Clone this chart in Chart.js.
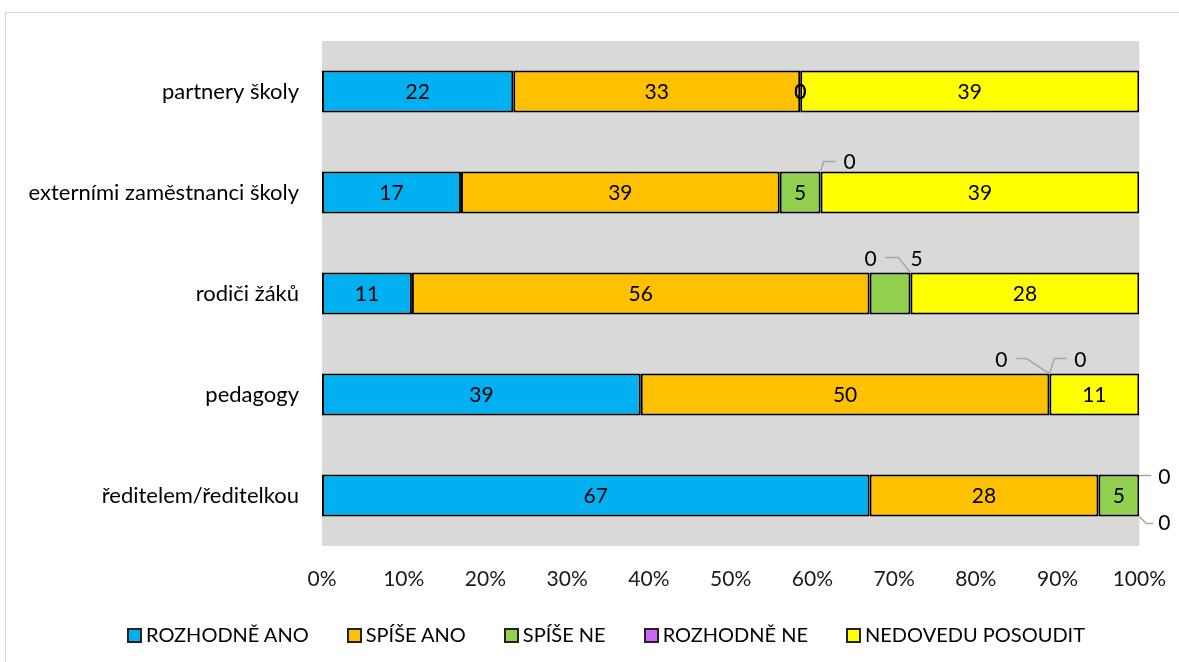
<!DOCTYPE html>
<html lang="cs">
<head>
<meta charset="utf-8">
<script src="https://cdn.jsdelivr.net/npm/chart.js@4"></script>
<style>
  html, body { margin: 0; padding: 0; background: #fff; overflow: hidden; }
  #obal { position: relative; width: 1179px; height: 662px; overflow: hidden; }
  #ramecek { position: absolute; left: 5px; top: 12px; width: 1300px; height: 800px;
    border: 1.5px solid #d9d9d9; box-sizing: border-box; }
  #graf { position: absolute; left: 0; top: 0; }
  #legenda { position: absolute; left: 127px; top: 621px; display: flex; gap: 38px;
    font-family: Lato, sans-serif; font-size: 20px; color: #000; line-height: 26px; }
  #legenda span.polozka { display: flex; align-items: center; white-space: nowrap; }
  #legenda span.ctverec { display: inline-block; width: 11px; height: 11px;
    border: 2px solid #222; margin-right: 4px; margin-top: 3px; }
</style>
</head>
<body>
<div id="obal">
  <div id="ramecek"></div>
  <canvas id="graf" width="1179" height="662"></canvas>
  <div id="legenda"></div>
</div>
<script>
const kategorie = ["partnery školy", "externími zaměstnanci školy", "rodiči žáků", "pedagogy", "ředitelem/ředitelkou"];
const nazvyRad = ["ROZHODNĚ ANO", "SPÍŠE ANO", "SPÍŠE NE", "ROZHODNĚ NE", "NEDOVEDU POSOUDIT"];
const rozhodneAno = [22, 17, 11, 39, 67];
const spiseAno = [33, 39, 56, 50, 28];
const spiseNe = [0, 5, 5, 0, 5];
const rozhodneNe = [0, 0, 0, 0, 0];
const nedovedu = [39, 39, 28, 11, 0];
const barvy = ["#00B0F0", "#FFC000", "#92D050", "#CC66FF", "#FFFF00"];

const rady = [rozhodneAno, spiseAno, spiseNe, rozhodneNe, nedovedu];

// popisky mimo sloupec (kategorie, rada, okraj, cara, pozice textu)
const odkazy = [
  { kat: 1, rada: 3, okraj: "top", cara: [[0, 0], [3, -10], [15, -10]], text: [29, -9] },
  { kat: 2, rada: 2, okraj: "top", cara: null, text: [6, -13] },
  { kat: 2, rada: 3, okraj: "top", cara: [[-25, -15], [-12, -15], [0, 0]], text: [-40, -13] },
  { kat: 3, rada: 2, okraj: "top", cara: [[-33, -15], [-23, -15], [0, 0]], text: [-48, -13] },
  { kat: 3, rada: 3, okraj: "top", cara: [[0, 0], [5, -15], [17, -15]], text: [31, -13] },
  { kat: 4, rada: 3, okraj: "top", cara: [[0, 1], [12, 1]], text: [25, 3] },
  { kat: 4, rada: 4, okraj: "bottom", cara: [[0, 0], [7, 7], [14, 7]], text: [25, 7] }
];

// prevod na procenta (100% skladany graf)
const soucty = kategorie.map((k, i) => rady.reduce((s, r) => s + r[i], 0));
const procenta = rady.map(r => r.map((v, i) => v / soucty[i] * 100));

const pozadi = {
  id: "pozadi",
  beforeDatasetsDraw(chart) {
    const { ctx, chartArea: a } = chart;
    ctx.save();
    ctx.fillStyle = "#D9D9D9";
    ctx.fillRect(a.left, a.top, a.right - a.left, a.bottom - a.top);
    ctx.restore();
  }
};

const popisky = {
  id: "popisky",
  afterDatasetsDraw(chart) {
    const ctx = chart.ctx;
    ctx.save();
    ctx.font = "21px Lato";
    ctx.fillStyle = "#000";
    ctx.textAlign = "center";
    ctx.textBaseline = "middle";
    rady.forEach((r, d) => {
      const meta = chart.getDatasetMeta(d);
      meta.data.forEach((el, i) => {
        const odkaz = odkazy.find(o => o.kat === i && o.rada === d);
        if (odkaz) {
          const ax = el.x;
          const ay = odkaz.okraj === "top" ? el.y - el.height / 2 : el.y + el.height / 2;
          if (odkaz.cara) {
            ctx.strokeStyle = "#A6A6A6";
            ctx.lineWidth = 1.5;
            ctx.beginPath();
            odkaz.cara.forEach((p, j) => {
              if (j === 0) ctx.moveTo(ax + p[0], ay + p[1]);
              else ctx.lineTo(ax + p[0], ay + p[1]);
            });
            ctx.stroke();
          }
          ctx.fillText(String(r[i]), ax + odkaz.text[0], ay + odkaz.text[1]);
        } else {
          ctx.fillText(String(r[i]), (el.x + el.base) / 2, el.y + 1);
        }
      });
    });
    ctx.restore();
  }
};

new Chart(document.getElementById("graf"), {
  type: "bar",
  data: {
    labels: kategorie,
    datasets: nazvyRad.map((n, d) => ({
      label: n,
      data: procenta[d],
      backgroundColor: barvy[d],
      borderColor: "#000",
      borderWidth: 2,
      borderSkipped: false,
      categoryPercentage: 1,
      barPercentage: 0.415
    }))
  },
  options: {
    indexAxis: "y",
    responsive: false,
    animation: false,
    devicePixelRatio: 1,
    layout: { padding: { top: 41, right: 38, left: 0, bottom: 0 } },
    scales: {
      x: {
        stacked: true,
        min: 0,
        max: 100,
        grid: { display: false },
        border: { display: false },
        ticks: {
          stepSize: 10,
          padding: 13,
          color: "#1a1a1a",
          font: { family: "Lato", size: 21 },
          callback: v => v + "%"
        },
        afterFit: s => { s.height = 116; }
      },
      y: {
        stacked: true,
        grid: { display: false },
        border: { display: false },
        ticks: {
          padding: 15,
          color: "#000",
          font: { family: "Lato", size: 22 }
        },
        afterFit: s => { s.width = 322; }
      }
    },
    plugins: {
      legend: { display: false },
      tooltip: { enabled: false }
    }
  },
  plugins: [pozadi, popisky]
});

const legenda = document.getElementById("legenda");
nazvyRad.forEach((n, d) => {
  const p = document.createElement("span");
  p.className = "polozka";
  p.innerHTML = `<span class="ctverec" style="background:${barvy[d]}"></span>${n}`;
  legenda.appendChild(p);
});
</script>
</body>
</html>
